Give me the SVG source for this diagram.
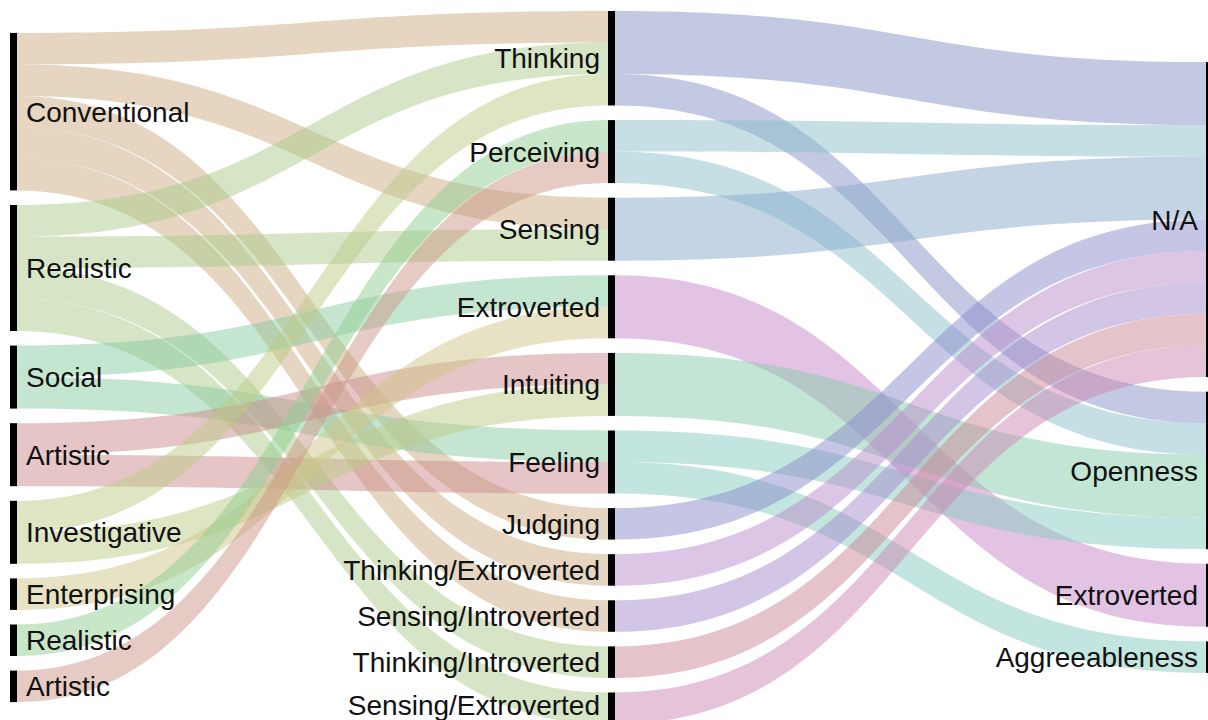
<svg xmlns="http://www.w3.org/2000/svg" width="1208" height="720" viewBox="0 0 1208 720">
  <style>
    .lnk { fill-opacity: 0.5; stroke: none; }
    .conv { fill: #cbab83; }
    .real { fill: #abcb8b; }
    .soc { fill: #89cb9f; }
    .art { fill: #cb8b8b; }
    .inv { fill: #bbcb87; }
    .ent { fill: #cdc587; }
    .real2 { fill: #91cd91; }
    .art2 { fill: #cb9787; }
    .thk { fill: #8791c7; }
    .per { fill: #8bbfcb; }
    .sen { fill: #87abcb; }
    .ext { fill: #c787c7; }
    .int { fill: #87cbab; }
    .fee { fill: #87cbbf; }
    .jud { fill: #8b8bcb; }
    .te { fill: #b98bcb; }
    .si { fill: #a78bcb; }
    .ti { fill: #cb8797; }
    .se { fill: #cb87b1; }
    .bar { fill: #000000; }
    .lbl { font-family: "Liberation Sans", Arial, sans-serif; font-size: 28px; fill: #111111; }
    .end { text-anchor: end; }
  </style>

  <!-- links: left column to middle column (x 17 -> 608, control x 312.5) -->
  <g id="connectors">
    <path class="lnk conv" d="M17,32.9 C312.5,32.9 312.5,11 608,11 L608,42.5 C312.5,42.5 312.5,64.4 17,64.4 Z"/>
    <path class="lnk conv" d="M17,64.4 C312.5,64.4 312.5,197.7 608,197.7 L608,229.2 C312.5,229.2 312.5,95.9 17,95.9 Z"/>
    <path class="lnk conv" d="M17,95.9 C312.5,95.9 312.5,508.1 608,508.1 L608,539.6 C312.5,539.6 312.5,127.4 17,127.4 Z"/>
    <path class="lnk conv" d="M17,127.4 C312.5,127.4 312.5,554.2 608,554.2 L608,585.7 C312.5,585.7 312.5,158.9 17,158.9 Z"/>
    <path class="lnk conv" d="M17,158.9 C312.5,158.9 312.5,600.3 608,600.3 L608,631.8 C312.5,631.8 312.5,190.4 17,190.4 Z"/>
    <path class="lnk real" d="M17,205 C312.5,205 312.5,42.5 608,42.5 L608,74 C312.5,74 312.5,236.5 17,236.5 Z"/>
    <path class="lnk real" d="M17,236.5 C312.5,236.5 312.5,229.2 608,229.2 L608,260.7 C312.5,260.7 312.5,268 17,268 Z"/>
    <path class="lnk real" d="M17,268 C312.5,268 312.5,646.4 608,646.4 L608,677.9 C312.5,677.9 312.5,299.5 17,299.5 Z"/>
    <path class="lnk real" d="M17,299.5 C312.5,299.5 312.5,692.5 608,692.5 L608,724 C312.5,724 312.5,331 17,331 Z"/>
    <path class="lnk soc" d="M17,345.6 C312.5,345.6 312.5,275.3 608,275.3 L608,306.8 C312.5,306.8 312.5,377.1 17,377.1 Z"/>
    <path class="lnk soc" d="M17,377.1 C312.5,377.1 312.5,430.5 608,430.5 L608,462 C312.5,462 312.5,408.6 17,408.6 Z"/>
    <path class="lnk art" d="M17,423.2 C312.5,423.2 312.5,352.9 608,352.9 L608,384.4 C312.5,384.4 312.5,454.7 17,454.7 Z"/>
    <path class="lnk art" d="M17,454.7 C312.5,454.7 312.5,462 608,462 L608,493.5 C312.5,493.5 312.5,486.2 17,486.2 Z"/>
    <path class="lnk inv" d="M17,500.8 C312.5,500.8 312.5,74 608,74 L608,105.5 C312.5,105.5 312.5,532.3 17,532.3 Z"/>
    <path class="lnk inv" d="M17,532.3 C312.5,532.3 312.5,384.4 608,384.4 L608,415.9 C312.5,415.9 312.5,563.8 17,563.8 Z"/>
    <path class="lnk ent" d="M17,578.4 C312.5,578.4 312.5,306.8 608,306.8 L608,338.3 C312.5,338.3 312.5,609.9 17,609.9 Z"/>
    <path class="lnk real2" d="M17,624.5 C312.5,624.5 312.5,120.1 608,120.1 L608,151.6 C312.5,151.6 312.5,656 17,656 Z"/>
    <path class="lnk art2" d="M17,670.6 C312.5,670.6 312.5,151.6 608,151.6 L608,183.1 C312.5,183.1 312.5,702.1 17,702.1 Z"/>

    <!-- links: middle column to right column (x 615 -> 1206, control x 910.5) -->
    <path class="lnk thk" d="M615,11 C910.5,11 910.5,62.1 1206,62.1 L1206,125.1 C910.5,125.1 910.5,74 615,74 Z"/>
    <path class="lnk thk" d="M615,74 C910.5,74 910.5,391.7 1206,391.7 L1206,423.2 C910.5,423.2 910.5,105.5 615,105.5 Z"/>
    <path class="lnk per" d="M615,120.1 C910.5,120.1 910.5,125.1 1206,125.1 L1206,156.6 C910.5,156.6 910.5,151.6 615,151.6 Z"/>
    <path class="lnk per" d="M615,151.6 C910.5,151.6 910.5,423.2 1206,423.2 L1206,454.7 C910.5,454.7 910.5,183.1 615,183.1 Z"/>
    <path class="lnk sen" d="M615,197.7 C910.5,197.7 910.5,156.6 1206,156.6 L1206,219.6 C910.5,219.6 910.5,260.7 615,260.7 Z"/>
    <path class="lnk ext" d="M615,275.3 C910.5,275.3 910.5,563.8 1206,563.8 L1206,626.8 C910.5,626.8 910.5,338.3 615,338.3 Z"/>
    <path class="lnk int" d="M615,352.9 C910.5,352.9 910.5,454.7 1206,454.7 L1206,517.7 C910.5,517.7 910.5,415.9 615,415.9 Z"/>
    <path class="lnk fee" d="M615,430.5 C910.5,430.5 910.5,517.7 1206,517.7 L1206,549.2 C910.5,549.2 910.5,462 615,462 Z"/>
    <path class="lnk fee" d="M615,462 C910.5,462 910.5,641.4 1206,641.4 L1206,672.9 C910.5,672.9 910.5,493.5 615,493.5 Z"/>
    <path class="lnk jud" d="M615,508.1 C910.5,508.1 910.5,219.6 1206,219.6 L1206,251.1 C910.5,251.1 910.5,539.6 615,539.6 Z"/>
    <path class="lnk te" d="M615,554.2 C910.5,554.2 910.5,251.1 1206,251.1 L1206,282.6 C910.5,282.6 910.5,585.7 615,585.7 Z"/>
    <path class="lnk si" d="M615,600.3 C910.5,600.3 910.5,282.6 1206,282.6 L1206,314.1 C910.5,314.1 910.5,631.8 615,631.8 Z"/>
    <path class="lnk ti" d="M615,646.4 C910.5,646.4 910.5,314.1 1206,314.1 L1206,345.6 C910.5,345.6 910.5,677.9 615,677.9 Z"/>
    <path class="lnk se" d="M615,692.5 C910.5,692.5 910.5,345.6 1206,345.6 L1206,377.1 C910.5,377.1 910.5,724 615,724 Z"/>
  </g>

  <!-- left column -->
  <g id="n-conventional"><rect class="bar" x="10" y="32.9" width="7" height="157.5"/><text class="lbl" x="26" y="121.6">Conventional</text></g>
  <g id="n-realistic"><rect class="bar" x="10" y="205" width="7" height="126"/><text class="lbl" x="26" y="278">Realistic</text></g>
  <g id="n-social"><rect class="bar" x="10" y="345.6" width="7" height="63"/><text class="lbl" x="26" y="387.1">Social</text></g>
  <g id="n-artistic"><rect class="bar" x="10" y="423.2" width="7" height="63"/><text class="lbl" x="26" y="464.7">Artistic</text></g>
  <g id="n-investigative"><rect class="bar" x="10" y="500.8" width="7" height="63"/><text class="lbl" x="26" y="542.3">Investigative</text></g>
  <g id="n-enterprising"><rect class="bar" x="10" y="578.4" width="7" height="31.5"/><text class="lbl" x="26" y="604.2">Enterprising</text></g>
  <g id="n-realistic-2"><rect class="bar" x="10" y="624.5" width="7" height="31.5"/><text class="lbl" x="26" y="650.3">Realistic</text></g>
  <g id="n-artistic-2"><rect class="bar" x="10" y="670.6" width="7" height="31.5"/><text class="lbl" x="26" y="696.4">Artistic</text></g>

  <!-- middle column -->
  <g id="n-thinking"><rect class="bar" x="608" y="11" width="7" height="94.5"/><text class="lbl end" x="600" y="68.3">Thinking</text></g>
  <g id="n-perceiving"><rect class="bar" x="608" y="120.1" width="7" height="63"/><text class="lbl end" x="600" y="161.6">Perceiving</text></g>
  <g id="n-sensing"><rect class="bar" x="608" y="197.7" width="7" height="63"/><text class="lbl end" x="600" y="239.2">Sensing</text></g>
  <g id="n-extroverted"><rect class="bar" x="608" y="275.3" width="7" height="63"/><text class="lbl end" x="600" y="316.8">Extroverted</text></g>
  <g id="n-intuiting"><rect class="bar" x="608" y="352.9" width="7" height="63"/><text class="lbl end" x="600" y="394.4">Intuiting</text></g>
  <g id="n-feeling"><rect class="bar" x="608" y="430.5" width="7" height="63"/><text class="lbl end" x="600" y="472">Feeling</text></g>
  <g id="n-judging"><rect class="bar" x="608" y="508.1" width="7" height="31.5"/><text class="lbl end" x="600" y="533.9">Judging</text></g>
  <g id="n-thinking-extroverted"><rect class="bar" x="608" y="554.2" width="7" height="31.5"/><text class="lbl end" x="600" y="580">Thinking/Extroverted</text></g>
  <g id="n-sensing-introverted"><rect class="bar" x="608" y="600.3" width="7" height="31.5"/><text class="lbl end" x="600" y="626.1">Sensing/Introverted</text></g>
  <g id="n-thinking-introverted"><rect class="bar" x="608" y="646.4" width="7" height="31.5"/><text class="lbl end" x="600" y="672.2">Thinking/Introverted</text></g>
  <g id="n-sensing-extroverted"><rect class="bar" x="608" y="692.5" width="7" height="31.5"/><text class="lbl end" x="600" y="714.5">Sensing/Extroverted</text></g>

  <!-- right column -->
  <g id="n-na"><rect class="bar" x="1206" y="62.1" width="7" height="315"/><text class="lbl end" x="1198" y="229.6">N/A</text></g>
  <g id="n-openness"><rect class="bar" x="1206" y="391.7" width="7" height="157.5"/><text class="lbl end" x="1198" y="480.5">Openness</text></g>
  <g id="n-extroverted-r"><rect class="bar" x="1206" y="563.8" width="7" height="63"/><text class="lbl end" x="1198" y="605.3">Extroverted</text></g>
  <g id="n-agreeableness"><rect class="bar" x="1206" y="641.4" width="7" height="31.5"/><text class="lbl end" x="1198" y="667.2">Aggreeableness</text></g>
</svg>
